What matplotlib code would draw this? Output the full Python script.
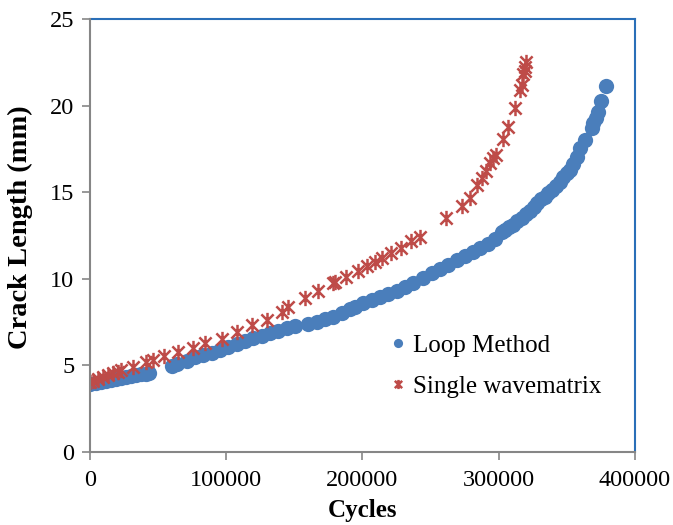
import matplotlib
matplotlib.use('Agg')
import matplotlib.pyplot as plt
from matplotlib.path import Path

# Loop Method (blue circles)
loop_cycles = [0, 4600, 8300, 12000, 15600, 19300, 23000, 26600, 30300, 34000, 37600, 41300, 43500,
               60400, 64000,
               71400, 77200, 83100, 89500, 95600, 101400, 108000, 113900, 119800, 126400,
               132300, 138200, 144700, 150600,
               160100, 166700, 172600, 178500, 185100, 190900, 194600, 200500, 207000, 212900,
               218800, 225400, 231300, 237100, 244500, 251000, 256900, 262800, 269400, 275200,
               281100, 286300, 292100, 297300, 302400, 304600, 307500, 310500, 313400, 317100,
               320000, 323000, 325900, 328100, 331100, 334000, 336200, 339100, 342100, 345000,
               347200, 350200, 352400, 354600, 357500, 359700, 363300, 368500, 369500, 371400,
               373100, 375500, 378700]
loop_mm = [3.90, 3.98, 4.04, 4.10, 4.15, 4.21, 4.27, 4.32, 4.37, 4.41, 4.46, 4.50, 4.55,
           4.97, 5.06,
           5.26, 5.45, 5.58, 5.71, 5.87, 6.03, 6.22, 6.41, 6.55, 6.68,
           6.84, 6.97, 7.13, 7.26,
           7.37, 7.51, 7.65, 7.80, 7.99, 8.22, 8.34, 8.57, 8.76, 8.92,
           9.11, 9.30, 9.53, 9.76, 10.02, 10.31, 10.56, 10.79, 11.05, 11.31,
           11.54, 11.77, 12.03, 12.32, 12.70, 12.81, 12.96, 13.10, 13.33, 13.50,
           13.74, 13.94, 14.16, 14.36, 14.58, 14.74, 14.97, 15.12, 15.38, 15.60,
           15.85, 16.09, 16.28, 16.63, 17.06, 17.54, 18.02, 18.69, 18.98, 19.29,
           19.65, 20.27, 21.14]

# Single wavematrix (red stars)
swm_cycles = [500, 2400, 6100, 9800, 13400, 17100, 20800, 23000, 31800, 41300, 46400, 54500,
              64800, 75800, 84600, 97100, 108000, 119100, 130100, 141100, 145500, 157900,
              167500, 178500, 179900, 188000, 196800, 203400, 209300, 214400, 221000, 228300,
              235700, 242300, 261300, 273100, 278900, 284100, 287700, 290700, 293600, 295800,
              298000, 303200, 306800, 312000, 316000, 317100, 318200, 319300, 319700, 320400]
swm_mm = [4.02, 4.09, 4.18, 4.29, 4.42, 4.52, 4.62, 4.71, 4.87, 5.16, 5.29, 5.52,
          5.74, 5.97, 6.25, 6.51, 6.94, 7.32, 7.61, 8.09, 8.37, 8.90,
          9.30, 9.73, 9.82, 10.08, 10.47, 10.73, 10.96, 11.21, 11.50, 11.75,
          12.19, 12.42, 13.49, 14.20, 14.69, 15.39, 15.82, 16.25, 16.66, 16.95,
          17.15, 18.06, 18.79, 19.87, 20.94, 21.20, 21.83, 22.22, 22.01, 22.55]

# asterisk: an X plus a vertical stroke
star = Path([(0, -1), (0, 1), (-0.8, -0.8), (0.8, 0.8), (-0.8, 0.8), (0.8, -0.8)],
            [Path.MOVETO, Path.LINETO, Path.MOVETO, Path.LINETO, Path.MOVETO, Path.LINETO])

plt.rcParams['font.family'] = ['Liberation Serif', 'DejaVu Serif']

fig = plt.figure(figsize=(6.73, 5.25), dpi=100)
ax = fig.add_axes([0.1333, 0.14, 0.81, 0.8232])

ax.plot(loop_cycles, loop_mm, linestyle='none', marker='o', markersize=11,
        color='#4A7EBB', markeredgewidth=0, label='Loop Method')
ax.plot(swm_cycles, swm_mm, linestyle='none', marker=star, markersize=11,
        color='#BE4B48', markeredgewidth=1.8, label='Single wavematrix')

ax.set_xlim(0, 400000)
ax.set_ylim(0, 25)
ax.set_xticks([0, 100000, 200000, 300000, 400000])
ax.set_yticks([0, 5, 10, 15, 20, 25])

for s in ['left', 'bottom']:
    ax.spines[s].set_color('#868686')
    ax.spines[s].set_linewidth(1.5)
for s in ['top', 'right']:
    ax.spines[s].set_color('#2A6FB8')
    ax.spines[s].set_linewidth(1.5)
ax.spines['left'].set_zorder(5)
ax.spines['bottom'].set_zorder(5)

ax.tick_params(axis='both', direction='out', length=6, width=1.2, color='#868686',
               labelsize=17.5)
ax.tick_params(axis='x', pad=7)
ax.tick_params(axis='y', pad=5)

ax.set_xlabel('Cycles', fontsize=18, fontweight='bold', labelpad=6)
ax.set_ylabel('Crack Length (mm)', fontsize=20.5, fontweight='bold')
ax.yaxis.set_label_coords(-0.104, 0.52)

leg = ax.legend(loc='upper left', bbox_to_anchor=(0.535, 0.295), frameon=False,
                fontsize=18, markerscale=0.6, handlelength=0.5, handletextpad=0.35,
                labelspacing=0.75, borderaxespad=0)

fig.savefig('out.png', dpi=100)
